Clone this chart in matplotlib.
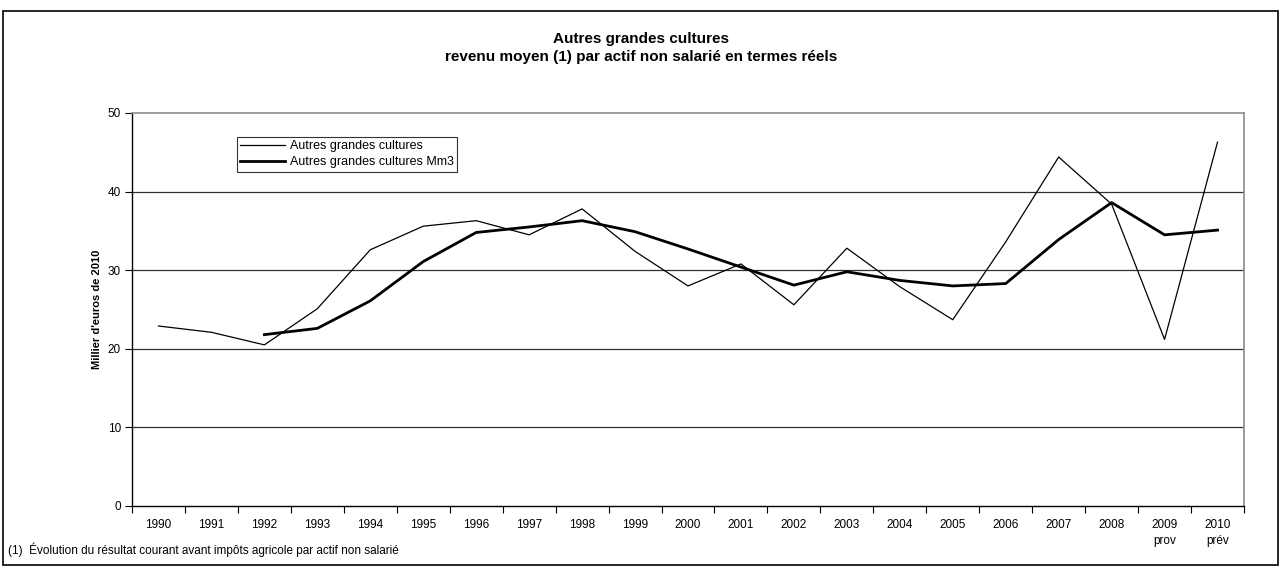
import matplotlib
matplotlib.use('Agg')
import matplotlib.pyplot as plt
import numpy as np
from matplotlib.patches import Rectangle

plt.rcParams['font.family'] = ['Liberation Sans', 'DejaVu Sans']

# data (milliers d'euros de 2010)
years = ['1990', '1991', '1992', '1993', '1994', '1995', '1996', '1997', '1998', '1999',
         '2000', '2001', '2002', '2003', '2004', '2005', '2006', '2007', '2008',
         '2009\nprov', '2010\nprév']
revenu = [22.9, 22.1, 20.5, 25.1, 32.6, 35.6, 36.3, 34.5, 37.8, 32.4,
          28.0, 30.8, 25.6, 32.8, 27.9, 23.7, 33.6, 44.4, 38.4, 21.2, 46.3]
# 3-year moving average (starts in 1992)
revenu_mm3 = [None, None, 21.8, 22.6, 26.1, 31.1, 34.8, 35.5, 36.3, 34.9,
              32.7, 30.4, 28.1, 29.8, 28.7, 28.0, 28.3, 33.9, 38.6, 34.5, 35.1]

title = 'Autres grandes cultures\nrevenu moyen (1) par actif non salarié en termes réels'
ylabel = "Millier d'euros de 2010"
footnote = '(1)  Évolution du résultat courant avant impôts agricole par actif non salarié'
series_labels = ['Autres grandes cultures', 'Autres grandes cultures Mm3']

W, H = 1282, 572
fig = plt.figure(figsize=(W / 100, H / 100), dpi=100)
ax = fig.add_axes([132 / W, 1 - 506 / H, (1244 - 132) / W, (506 - 113) / H])

x = np.arange(len(years))
mm3 = np.array([np.nan if v is None else v for v in revenu_mm3])

ax.plot(x, revenu, color='black', lw=0.9, label=series_labels[0])
ax.plot(x, mm3, color='black', lw=2.0, label=series_labels[1])

ax.set_xlim(-0.5, len(years) - 0.5)
ax.set_ylim(0, 50)
ax.set_yticks(range(0, 51, 10))
for v in range(10, 50, 10):
    ax.axhline(v, color='#303030', lw=0.9, zorder=0)

# ticks between categories, labels centered on categories
ax.set_xticks(np.arange(-0.5, len(years), 1.0))
ax.set_xticklabels([])
ax.set_xticks(x, minor=True)
ax.set_xticklabels(years, minor=True, fontsize=8.5, linespacing=1.5)
ax.tick_params(axis='x', which='minor', length=0, pad=9)
ax.tick_params(axis='x', which='major', length=5, width=0.8, direction='out')
ax.tick_params(axis='y', length=5, width=0.8, direction='out', labelsize=8.5, pad=3)

for side in ['top', 'right']:
    ax.spines[side].set_color('#8c8c8c')
    ax.spines[side].set_linewidth(1.2)
for side in ['left', 'bottom']:
    ax.spines[side].set_color('black')
    ax.spines[side].set_linewidth(1.0)

ax.set_ylabel(ylabel, fontsize=8, fontweight='bold', labelpad=4)

fig.text(0.5, 1 - 48 / H, title, ha='center', va='center', fontsize=11,
         fontweight='bold', linespacing=1.4)

leg = ax.legend(loc='upper left', bbox_to_anchor=(237 / W, 1 - 137 / H),
                bbox_transform=fig.transFigure, borderaxespad=0, fontsize=9,
                frameon=True, fancybox=False, edgecolor='black', handlelength=3.6,
                handletextpad=0.4, borderpad=0.25, labelspacing=0.35)
leg.get_frame().set_linewidth(0.8)

fig.text(8 / W, 1 - 550 / H, footnote, ha='left', va='center', fontsize=8.5)

# outer chart frame
fig.patches.append(Rectangle((3 / W, 1 - 565 / H), (1278 - 3) / W, (565 - 11) / H,
                             transform=fig.transFigure, fill=False,
                             edgecolor='black', lw=1.2))

fig.savefig('out.png', dpi=100)
